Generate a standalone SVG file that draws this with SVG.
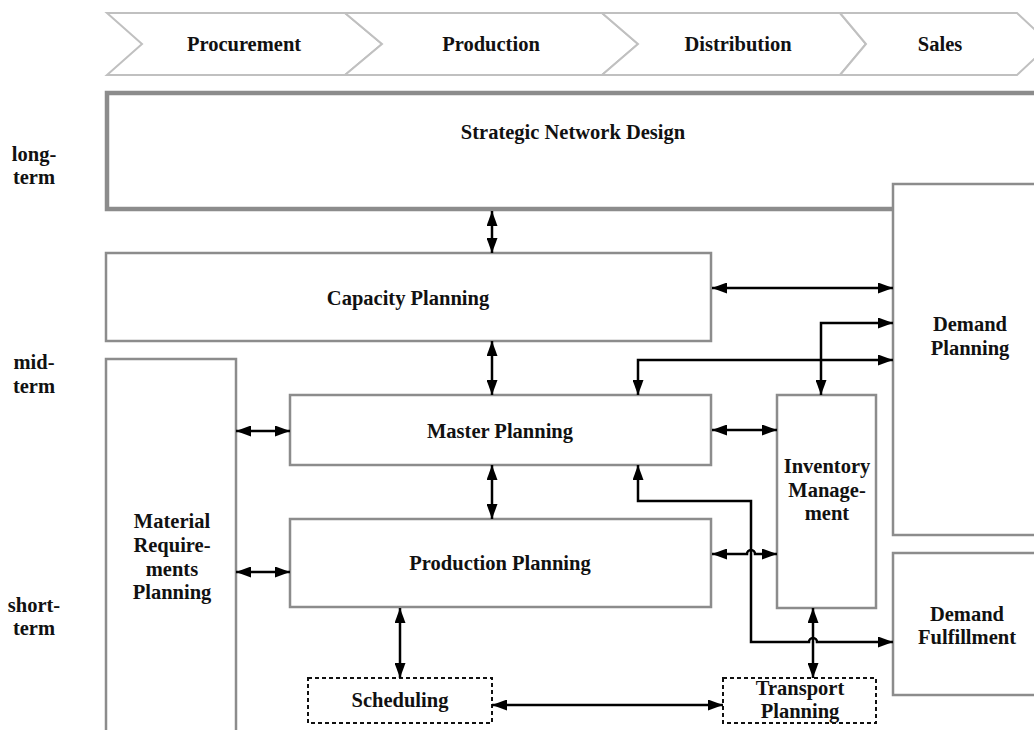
<svg xmlns="http://www.w3.org/2000/svg" width="1034" height="730" viewBox="0 0 1034 730">
<style>
text{font-family:"Liberation Serif","Times New Roman",serif;font-weight:bold;font-size:20.5px;fill:#111;text-anchor:middle}
.chev{fill:#fff;stroke:#c0c0c0;stroke-width:2}
.box{fill:#fff;stroke:#8c8c8c;stroke-width:2.5}
.thick{fill:#fff;stroke:#8c8c8c;stroke-width:4.5}
.dash{fill:#fff;stroke:#111;stroke-width:2;stroke-dasharray:4 3}
.con{fill:none;stroke:#000;stroke-width:2.5}
</style>
<defs>
<marker id="ah" viewBox="0 0 15 11" refX="15" refY="5.5" markerWidth="15" markerHeight="11" markerUnits="userSpaceOnUse" orient="auto-start-reverse">
<path d="M0,0 L15,5.5 L0,11 z" fill="#000"/>
</marker>
</defs>
<rect width="1034" height="730" fill="#fff"/>
<g id="phases">
<g id="procurement"><polygon class="chev" points="107,13 345,13 382,44 345,75 107,75 142,44"/><text x="244" y="51">Procurement</text></g>
<g id="production"><polygon class="chev" points="345,13 602,13 638,44 602,75 345,75 382,44"/><text x="491" y="51">Production</text></g>
<g id="distribution"><polygon class="chev" points="602,13 840,13 866,44 840,75 602,75 638,44"/><text x="738" y="51">Distribution</text></g>
<g id="sales"><polygon class="chev" points="840,13 1017,13 1050,44 1017,75 840,75 866,44"/><text x="940" y="51">Sales</text></g>
</g>
<g id="horizons">
<text x="34" y="161">long-</text><text x="34" y="184">term</text>
<text x="34" y="369">mid-</text><text x="34" y="393">term</text>
<text x="34" y="612">short-</text><text x="34" y="635">term</text>
</g>
<g id="strategic"><rect class="thick" x="107" y="93" width="1000" height="116"/><text x="573" y="139">Strategic Network Design</text></g>
<g id="demand-planning"><rect class="box" x="893" y="184" width="200" height="351"/><text x="970" y="331">Demand</text><text x="970" y="355">Planning</text></g>
<g id="demand-fulfillment"><rect class="box" x="893" y="553" width="200" height="142"/><text x="967" y="621">Demand</text><text x="967" y="644">Fulfillment</text></g>
<g id="capacity"><rect class="box" x="106" y="253" width="605" height="88"/><text x="408" y="305">Capacity Planning</text></g>
<g id="mrp"><rect class="box" x="106" y="359" width="130" height="400"/><text x="172" y="528">Material</text><text x="172" y="552">Require-</text><text x="172" y="576">ments</text><text x="172" y="599">Planning</text></g>
<g id="master"><rect class="box" x="290" y="395" width="421" height="70"/><text x="500" y="438">Master Planning</text></g>
<g id="production-planning"><rect class="box" x="290" y="519" width="421" height="88"/><text x="500" y="570">Production Planning</text></g>
<g id="inventory"><rect class="box" x="777" y="395" width="99" height="213"/><text x="827" y="473">Inventory</text><text x="827" y="497">Manage-</text><text x="827" y="520">ment</text></g>
<g id="scheduling"><rect class="dash" x="308" y="678" width="184" height="45"/><text x="400" y="707">Scheduling</text></g>
<g id="transport"><rect class="dash" x="723" y="678" width="153" height="45"/><text x="800" y="695">Transport</text><text x="800" y="718">Planning</text></g>
<g id="connectors">
<path class="con" d="M492,211 L492,253" marker-start="url(#ah)" marker-end="url(#ah)"/>
<path class="con" d="M492,341 L492,395" marker-start="url(#ah)" marker-end="url(#ah)"/>
<path class="con" d="M492,465 L492,519" marker-start="url(#ah)" marker-end="url(#ah)"/>
<path class="con" d="M400,608 L400,678" marker-start="url(#ah)" marker-end="url(#ah)"/>
<path class="con" d="M712,288 L893,288" marker-start="url(#ah)" marker-end="url(#ah)"/>
<path class="con" d="M236,431 L290,431" marker-start="url(#ah)" marker-end="url(#ah)"/>
<path class="con" d="M236,572 L290,572" marker-start="url(#ah)" marker-end="url(#ah)"/>
<path class="con" d="M712,430 L777,430" marker-start="url(#ah)" marker-end="url(#ah)"/>
<path class="con" d="M712,554 L747,554 A4,4 0 0 1 755,554 L777,554" marker-start="url(#ah)" marker-end="url(#ah)"/>
<path class="con" d="M638,395 L638,360 L893,360" marker-start="url(#ah)" marker-end="url(#ah)"/>
<path class="con" d="M821,395 L821,323 L893,323" marker-start="url(#ah)" marker-end="url(#ah)"/>
<path class="con" d="M638,465 L638,501 L751,501 L751,642 L809,642 A4,4 0 0 1 817,642 L893,642" marker-start="url(#ah)" marker-end="url(#ah)"/>
<path class="con" d="M813,608 L813,678" marker-start="url(#ah)" marker-end="url(#ah)"/>
<path class="con" d="M492,705 L723,705" marker-start="url(#ah)" marker-end="url(#ah)"/>
</g>
</svg>
